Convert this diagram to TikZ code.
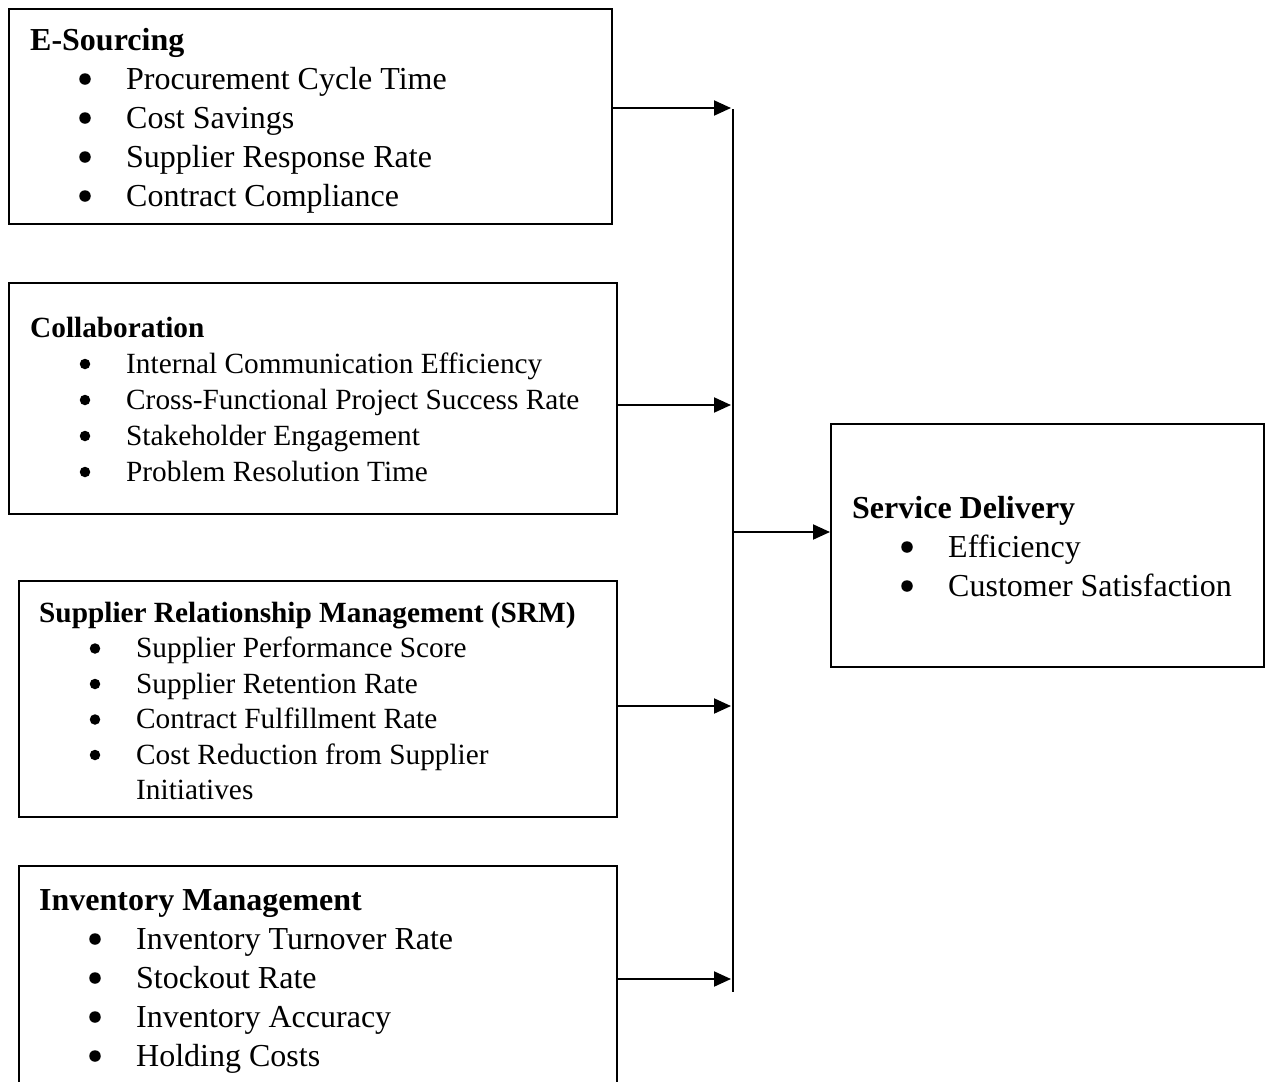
\documentclass[tikz,border=0pt]{standalone}
\usepackage{fontspec}
\setmainfont{Liberation Serif}
\usetikzlibrary{arrows.meta}
\begin{document}
\begin{tikzpicture}[x=1pt,y=-1pt,
  box/.style={draw,line width=2pt,inner sep=0pt},
  big/.style={font=\fontsize{32}{39}\selectfont,inner sep=0pt,anchor=base west},
  small/.style={font=\fontsize{29.3}{36}\selectfont,inner sep=0pt,anchor=base west},
  bigbul/.style={circle,fill,inner sep=0pt,minimum size=11.5pt},
  smallbul/.style={circle,fill,inner sep=0pt,minimum size=10.5pt},
  conn/.style={line width=2pt,-{Triangle[length=17pt,width=15pt]}},
  bus/.style={line width=2pt}]
\clip (0,0) rectangle (1270,1082);
\useasboundingbox (0,0) rectangle (1270,1082);

% boxes
\node[box,minimum width=603pt,minimum height=215pt] (e1) at (310.5,116.5) {};
\node[box,minimum width=608pt,minimum height=231pt] (e2) at (313,398.5) {};
\node[box,minimum width=598pt,minimum height=236pt] (e3) at (318,699) {};
\node[box,minimum width=598pt,minimum height=250pt] (e4) at (318,991) {};
\node[box,minimum width=433pt,minimum height=243pt] (sd) at (1047.5,545.5) {};

% E-Sourcing
\node[big,font=\fontsize{32}{39}\selectfont\bfseries] (e1h) at (30,50) {E-Sourcing};
\foreach \t [count=\i] in {Procurement Cycle Time,Cost Savings,Supplier Response Rate,Contract Compliance}{
  \node[bigbul] (e1b\i) at (85,{40+39*\i}) {};
  \node[big] (e1t\i) at (126,{50+39*\i}) {\t};
}

% Collaboration
\node[small,font=\fontsize{29.3}{36}\selectfont\bfseries] (e2h) at (30,337) {Collaboration};
\foreach \t [count=\i] in {Internal Communication Efficiency,Cross-Functional Project Success Rate,Stakeholder Engagement,Problem Resolution Time}{
  \node[smallbul] (e2b\i) at (85,{328+36*\i}) {};
  \node[small] (e2t\i) at (126,{337+36*\i}) {\t};
}

% SRM
\node[small,font=\fontsize{29.3}{36}\selectfont\bfseries] (e3h) at (39,622) {Supplier Relationship Management (SRM)};
\foreach \t [count=\i] in {Supplier Performance Score,Supplier Retention Rate,Contract Fulfillment Rate,Cost Reduction from Supplier}{
  \node[smallbul] (e3b\i) at (95,{613+35.5*\i}) {};
  \node[small] (e3t\i) at (136,{622+35.5*\i}) {\t};
}
\node[small] (e3t5) at (136,799.5) {Initiatives};

% Inventory Management
\node[big,font=\fontsize{32}{39}\selectfont\bfseries] (e4h) at (39,910) {Inventory Management};
\foreach \t [count=\i] in {Inventory Turnover Rate,Stockout Rate,Inventory Accuracy,Holding Costs}{
  \node[bigbul] (e4b\i) at (95,{900+39*\i}) {};
  \node[big] (e4t\i) at (136,{910+39*\i}) {\t};
}

% Service Delivery
\node[big,font=\fontsize{32}{39}\selectfont\bfseries] (sdh) at (852,518) {Service Delivery};
\foreach \t [count=\i] in {Efficiency,Customer Satisfaction}{
  \node[bigbul] (sdb\i) at (907,{508+39*\i}) {};
  \node[big] (sdt\i) at (948,{518+39*\i}) {\t};
}

% bus
\coordinate (bt) at (733,109);
\coordinate (bb) at (733,992);
\coordinate (a1) at (731,108);
\coordinate (a2) at (731,405);
\coordinate (a3) at (731,706);
\coordinate (a4) at (731,979);
\coordinate (bs) at (733,532);
\draw[bus] (bt) -- (bb);
\draw[conn] (e1.east |- a1) -- (a1);
\draw[conn] (e2.east |- a2) -- (a2);
\draw[conn] (e3.east |- a3) -- (a3);
\draw[conn] (e4.east |- a4) -- (a4);
\draw[conn] (bs) -- (sd.west |- bs);
\end{tikzpicture}
\end{document}
